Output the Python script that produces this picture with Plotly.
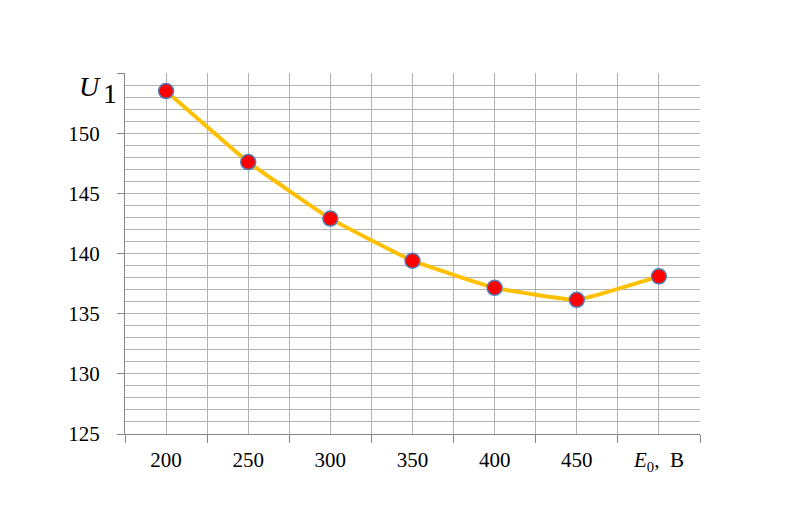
import plotly.graph_objects as go

# Data
e0_values = [200, 250, 300, 350, 400, 450, 500]
u1_values = [153.5, 147.6, 142.9, 139.4, 137.15, 136.15, 138.1]
x_tick_labels = ["200", "250", "300", "350", "400", "450", "<i>E</i><sub>0</sub>,  В"]
y_tick_vals = [125, 130, 135, 140, 145, 150, 155]
y_tick_labels = ["125", "130", "135", "140", "145", "150", " "]
x_boundaries = [175, 225, 275, 325, 375, 425, 475, 525]

GRID = "#b3b3b3"
AXIS = "#868686"
FONT = "Liberation Serif"

fig = go.Figure()
fig.add_trace(go.Scatter(
    x=e0_values, y=u1_values,
    mode="lines+markers",
    line=dict(color="#FFC000", width=4, shape="spline", smoothing=0.3),
    marker=dict(size=15, color="#FF0000", line=dict(color="#4F81BD", width=1.5)),
    showlegend=False,
    hoverinfo="x+y",
))

fig.update_layout(
    width=798, height=508,
    margin=dict(l=117, r=106, t=65, b=82),
    paper_bgcolor="white", plot_bgcolor="white",
    font=dict(family=FONT, size=21, color="black"),
    xaxis=dict(
        range=[175, 525], automargin=False,
        tickmode="array", tickvals=e0_values, ticktext=x_tick_labels,
        ticks="", showgrid=True, gridcolor=GRID, gridwidth=1,
        showline=True, linecolor=AXIS, linewidth=1,
        zeroline=False,
        tickfont=dict(family=FONT, size=21),
        ticklabelstandoff=7,
        minor=dict(tickmode="array", tickvals=x_boundaries, ticks="outside",
                   ticklen=8, tickcolor=AXIS, tickwidth=1,
                   showgrid=True, gridcolor=GRID, gridwidth=1),
    ),
    yaxis=dict(
        range=[125, 155], automargin=False,
        tickmode="array", tickvals=y_tick_vals, ticktext=y_tick_labels,
        ticks="outside", ticklen=7, tickcolor=AXIS, tickwidth=1,
        showgrid=True, gridcolor=GRID, gridwidth=1,
        showline=True, linecolor=AXIS, linewidth=1,
        zeroline=False,
        tickfont=dict(family=FONT, size=21),
        ticklabelstandoff=13,
        minor=dict(dtick=1, showgrid=True, gridcolor=GRID, gridwidth=1, ticks=""),
    ),
    annotations=[
        dict(text="<i>U</i>", xref="paper", yref="y", x=0, y=153.9,
             xanchor="right", yanchor="middle", xshift=-22, showarrow=False,
             font=dict(family=FONT, size=28, color="black")),
        dict(text="1", xref="paper", yref="y", x=0, y=153.3,
             xanchor="right", yanchor="middle", xshift=-6, showarrow=False,
             font=dict(family=FONT, size=28, color="black")),
    ],
)

fig.write_html("out.html")
